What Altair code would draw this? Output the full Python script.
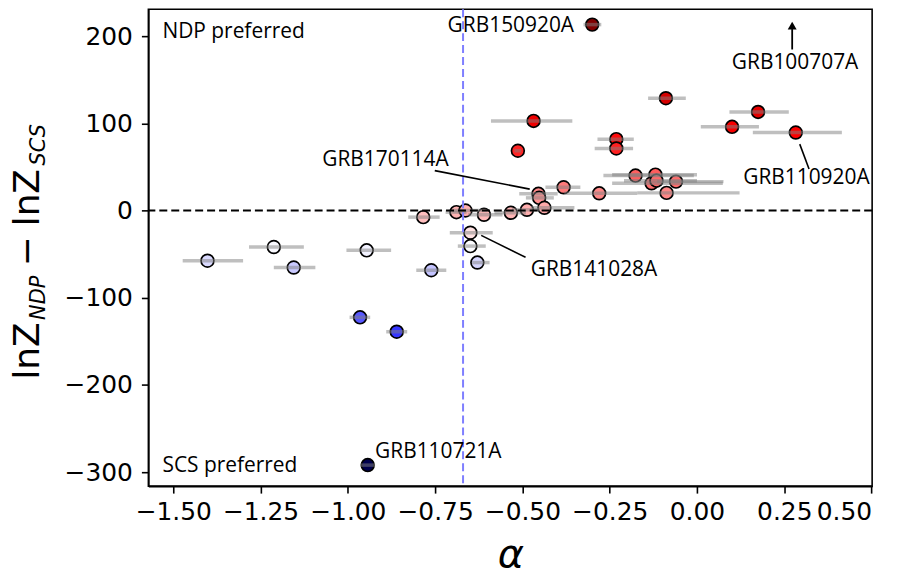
import altair as alt
import pandas as pd

# ---- data ----
grb_alpha = [-0.300, -0.089, 0.175, 0.1005, 0.283, -0.468, -0.513, -0.231, -0.231,
             -0.176, -0.119, -0.130, -0.116, -0.060, -0.087, -0.280, -0.382, -0.454,
             -0.452, -0.437, -0.487, -0.533, -0.689, -0.663, -0.610, -0.784, -0.649,
             -0.649, -0.629, -0.761, -0.946, -1.212, -1.155, -1.402, -0.965, -0.860, -0.943]
grb_lnz = [213.1, 128.7, 113.0, 95.9, 89.4, 102.7, 68.5, 81.8, 71.1,
           40.0, 41.1, 31.2, 34.2, 33.1, 20.2, 19.7, 26.6, 19.1,
           14.5, 3.1, 0.8, -2.6, -1.9, 0.0, -4.9, -7.6, -25.5,
           -40.8, -59.7, -68.5, -45.7, -41.9, -65.4, -57.6, -122.5, -139.0, -291.9]
grb_alpha_lo = [-0.325, -0.140, 0.093, 0.011, 0.160, -0.590, -0.523, -0.285, -0.293,
                -0.268, -0.243, -0.243, -0.209, -0.114, -0.171, -0.380, -0.434, -0.509,
                -0.490, -0.476, -0.530, -0.580, -0.720, -0.700, -0.655, -0.827, -0.708,
                -0.685, -0.644, -0.804, -1.004, -1.283, -1.212, -1.473, -0.995, -0.890, -0.965]
grb_alpha_hi = [-0.274, -0.032, 0.263, 0.1775, 0.415, -0.357, -0.503, -0.181, -0.183,
                -0.009, 0.000, 0.074, 0.000, 0.076, 0.122, -0.171, -0.334, -0.399,
                -0.410, -0.351, -0.450, -0.490, -0.660, -0.600, -0.557, -0.737, -0.585,
                -0.605, -0.594, -0.718, -0.876, -1.126, -1.093, -1.300, -0.936, -0.830, -0.922]

x_ticks = [-1.5, -1.25, -1.0, -0.75, -0.5, -0.25, 0.0, 0.25, 0.5]
y_ticks = [-300, -200, -100, 0, 100, 200]
alpha_ref = -0.67

# annotation labels (data coordinates)
lab_right = ["GRB150920A", "GRB170114A"]
lab_right_a = [-0.352, -0.711]
lab_right_v = [204.3, 51.4]
lab_left = ["GRB141028A", "GRB110721A", "NDP preferred", "SCS preferred"]
lab_left_a = [-0.476, -0.922, -1.531, -1.531]
lab_left_v = [-75.3, -283.4, 197.8, -299.4]
lab_center = ["GRB100707A", "GRB110920A"]
lab_center_a = [0.281, 0.3135]
lab_center_v = [161.8, 30.5]
# leader lines
lead_a1 = [0.2944, -0.751, -0.618]
lead_v1 = [76.1, 45.7, -28.5]
lead_a2 = [0.321, -0.479, -0.491]
lead_v2 = [47.6, 24.5, -53.7]
# arrow for off-scale GRB100707A
arrow_a = [0.2727]
arrow_v1 = [184.6]
arrow_v2 = [208.0]
arrow_tip_v = [212.0]

df = pd.DataFrame({"alpha": grb_alpha, "lnz": grb_lnz, "lo": grb_alpha_lo, "hi": grb_alpha_hi})

vmin, vmax = min(grb_lnz), max(grb_lnz)
span = vmax - vmin
color_domain = [vmin, vmin + 0.25 * span, vmin + 0.5 * span, vmin + 0.75 * span, vmax]
seismic = ["#00004c", "#0000ff", "#ffffff", "#ff0000", "#7f0000"]

xscale = alt.Scale(domain=[-1.5713, 0.5017], nice=False, zero=False)
yscale = alt.Scale(domain=[-316, 230.7], nice=False, zero=False)
XT = "α"

def X(field):
    return alt.X(field, type="quantitative", scale=xscale, title=XT,
                 axis=alt.Axis(values=x_ticks, format=".2f"))

def Y(field):
    return alt.Y(field, type="quantitative", scale=yscale, title=None,
                 axis=alt.Axis(values=y_ticks, format="d"))

points = alt.Chart(df).mark_circle(size=165, stroke="black", strokeWidth=1.7, opacity=1).encode(
    x=X("alpha"), y=Y("lnz"),
    color=alt.Color("lnz:Q", scale=alt.Scale(domain=color_domain, range=seismic, interpolate="rgb"),
                    legend=None),
)
errbars = alt.Chart(df).mark_rule(color="#808080", opacity=0.5, strokeWidth=3.5).encode(
    x=X("lo"), x2="hi", y=Y("lnz"),
)
zero_line = alt.Chart(pd.DataFrame({"v": [0.0]})).mark_rule(
    color="black", strokeDash=[8, 4], strokeWidth=2).encode(y=Y("v"))
v_line = alt.Chart(pd.DataFrame({"a": [alpha_ref]})).mark_rule(
    color="#7f7fff", strokeDash=[8, 4], strokeWidth=2).encode(x=X("a"))

lead_df = pd.DataFrame({"a1": lead_a1, "v1": lead_v1, "a2": lead_a2, "v2": lead_v2})
leaders = alt.Chart(lead_df).mark_rule(color="black", strokeWidth=1.6).encode(
    x=X("a1"), y=Y("v1"), x2="a2", y2="v2")

arrow_df = pd.DataFrame({"a": arrow_a, "v1": arrow_v1, "v2": arrow_v2, "vt": arrow_tip_v})
arrow_shaft = alt.Chart(arrow_df).mark_rule(color="black", strokeWidth=1.8).encode(
    x=X("a"), y=Y("v1"), y2="v2")
arrow_head = alt.Chart(arrow_df).mark_point(shape="triangle-up", filled=True, color="black",
                                            size=80, opacity=1).encode(x=X("a"), y=Y("vt"))

ANN_FONT = "Open Sans"
def labels(names, a, v, align):
    d = pd.DataFrame({"t": names, "a": a, "v": v})
    return alt.Chart(d).mark_text(align=align, baseline="alphabetic", font=ANN_FONT,
                                  fontSize=21, color="black").encode(
        x=X("a"), y=Y("v"), text="t:N")

ann = [labels(lab_right, lab_right_a, lab_right_v, "right"),
       labels(lab_left, lab_left_a, lab_left_v, "left"),
       labels(lab_center, lab_center_a, lab_center_v, "center")]

# y-axis title built from pieces (lnZ_NDP - lnZ_SCS), pixel offsets relative to plot origin
def ytitle(txt, x, y, size, style, align):
    d = pd.DataFrame({"t": [txt]})
    return alt.Chart(d).mark_text(align=align, baseline="alphabetic", angle=270, font="DejaVu Sans",
                                  fontSize=size, fontStyle=style, color="black").encode(
        text="t:N", x=alt.value(x), y=alt.value(y))

ylab = [
    ytitle("lnZ", -110.3, 372, 36, "normal", "left"),
    ytitle("NDP", -103.7, 312, 21, "italic", "left"),
    ytitle("\u2212", -110.3, 243, 36, "normal", "center"),
    ytitle("lnZ", -110.3, 218, 36, "normal", "left"),
    ytitle("SCS", -103.7, 157, 21, "italic", "left"),
]

chart = alt.layer(points, errbars, zero_line, v_line, leaders, arrow_shaft, arrow_head, *ann, *ylab).properties(
    width=727, height=479,
    autosize=alt.AutoSizeParams(type="none"),
    padding={"left": 141, "top": 0, "right": 30, "bottom": 89},
).configure_view(
    stroke="black", strokeWidth=1.6
).configure_axis(
    grid=False, domainColor="black", domainWidth=1.6, tickColor="black", tickWidth=1.6,
    tickSize=7, labelFont="DejaVu Sans", labelFontSize=25, labelColor="black",
    titleFont="DejaVu Sans", titleColor="black",
).configure_axisX(
    labelPadding=7, titleFontSize=40, titleFontStyle="italic", titleFontWeight="normal", titlePadding=10,
).configure_axisY(
    labelPadding=9,
)

chart.save("out.html", embed_options={"renderer": "svg", "actions": False})
